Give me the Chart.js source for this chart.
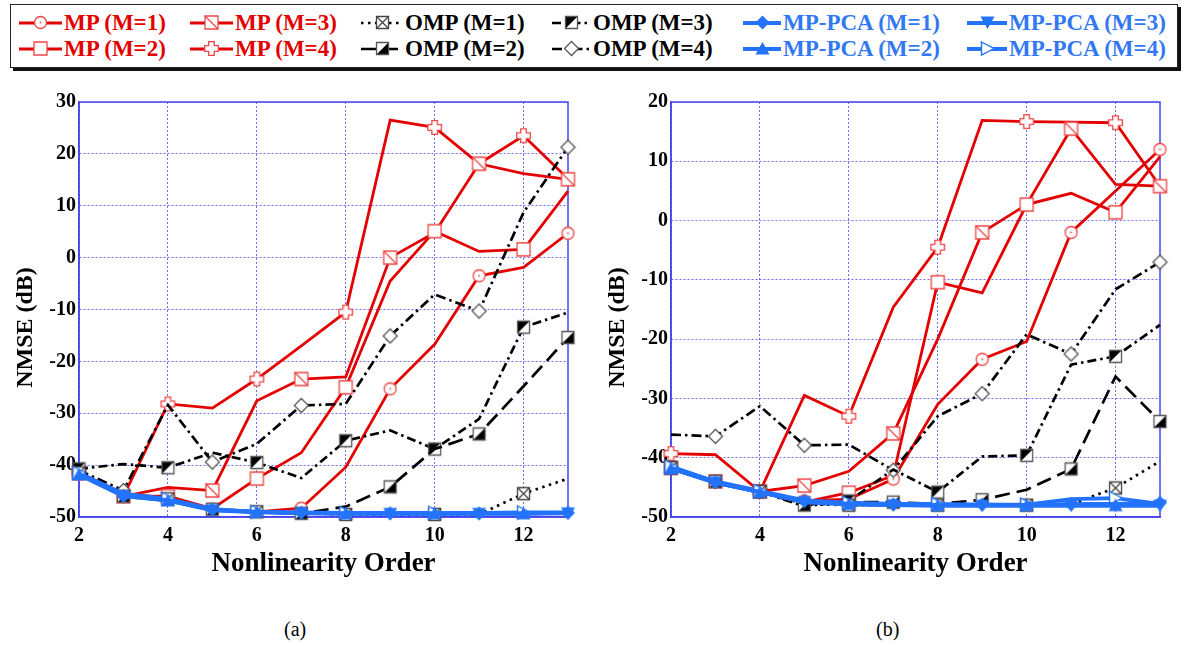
<!DOCTYPE html>
<html><head><meta charset="utf-8">
<script src="https://cdn.jsdelivr.net/npm/chart.js@4"></script>
<style>
body{margin:0;background:#fff;width:1186px;height:646px;position:relative;overflow:hidden;font-family:'Liberation Serif','Times New Roman',serif;}
#legend{position:absolute;left:10px;top:4px;width:1168px;height:64px;border:1.5px solid #222;box-shadow:3px 3px 0 #111;box-sizing:border-box;background:#fff;}
.li{position:absolute;height:26px;}
.li canvas{position:absolute;left:0;top:0;}
.li span{position:absolute;top:0;line-height:26px;font-weight:bold;font-size:23px;white-space:nowrap;}
.cap{position:absolute;font-size:20px;top:618px;}
.plot{position:absolute;top:85px;}
</style></head>
<body>
<div id="legend"></div>
<canvas id="ca" class="plot" width="571" height="497" style="left:7px"></canvas>
<canvas id="cb" class="plot" width="571" height="497" style="left:599px"></canvas>
<div class="cap" style="left:284px">(a)</div>
<div class="cap" style="left:876px">(b)</div>
<script>
// ---------------- data ----------------
const orders = [2,3,4,5,6,7,8,9,10,11,12,13];
const xTickValues = [2,4,6,8,10,12];
const yTicksA = [-50,-40,-30,-20,-10,0,10,20,30];
const yTicksB = [-50,-40,-30,-20,-10,0,10,20];

const seriesNames = ['MP (M=1)','MP (M=2)','MP (M=3)','MP (M=4)',
  'OMP (M=1)','OMP (M=2)','OMP (M=3)','OMP (M=4)',
  'MP-PCA (M=1)','MP-PCA (M=2)','MP-PCA (M=3)','MP-PCA (M=4)'];

// (a)
const mpA1 = [-41.5,-45.5,-46.3,-48.5,-49,-48.3,-40.4,-25.3,-16.7,-3.5,-1.9,4.7];
const mpA2 = [-41.5,-46,-46,-48.4,-42.6,-37.6,-25,-4.5,5.1,1.2,1.6,12.8];
const mpA3 = [-41.5,-46,-44.3,-44.9,-27.6,-23.4,-23,0,4.8,18.1,16.2,15.1];
const mpA4 = [-41.5,-46,-28.2,-29,-23.4,-17,-10.5,26.5,25.1,18.1,23.5,15.2];
const ompA1 = [-41.5,-46,-46.5,-48.5,-49,-49.3,-49.5,-49.5,-49.5,-49.5,-45.5,-42.6];
const ompA2 = [-41.5,-46,-46.5,-48.5,-49,-49.3,-48,-44.2,-36.9,-34,-24.8,-15.4];
const ompA3 = [-40.7,-39.8,-40.5,-37.6,-39.5,-42.5,-35.3,-33.3,-36.9,-31.1,-13.4,-10.6];
const ompA4 = [-41,-44.9,-28.4,-39.4,-35.9,-28.5,-28.2,-15.1,-7.1,-10.3,8.7,21.3];
const pcaA1 = [-41.8,-46,-46.8,-48.6,-49,-49.2,-49.3,-49.3,-49.3,-49.3,-49.3,-49.2];
const pcaA2 = [-41.8,-45.8,-46.8,-48.6,-49,-49.2,-49.3,-49.3,-49.3,-49.3,-49.3,-49.2];
const pcaA3 = [-41.8,-46,-46.8,-48.7,-49.1,-49.3,-49.4,-49.4,-49.4,-49.4,-49.4,-49.3];
const pcaA4 = [-41.5,-45.5,-46.5,-48.5,-49,-49.1,-49.2,-49.2,-49.2,-49.2,-49.1,-49.1];
// (b)
const mpB1 = [-41.7,-44,-45.7,-47.3,-47,-43.6,-31,-23.4,-20.4,-2,5,12];
const mpB2 = [-41.7,-44,-45.7,-47.5,-45.9,-43,-10.4,-12.2,2.7,4.6,1.4,10.8];
const mpB3 = [-41.7,-44,-45.7,-44.7,-42.3,-35.9,-20,-2,2.7,15.5,6.1,5.8];
const mpB4 = [-39.3,-39.5,-45.7,-29.5,-33,-14.6,-4.5,16.9,16.7,16.6,16.5,5.8];
const ompB1 = [-41.7,-44,-45.7,-47.8,-48,-48,-48,-48,-48,-47.8,-45.1,-40.6];
const ompB2 = [-41.7,-44,-45.7,-48,-47.5,-47.5,-47.8,-47.1,-45.4,-41.9,-26.3,-33.9];
const ompB3 = [-41.7,-44,-45.7,-48.2,-47.3,-42,-45.8,-39.8,-39.6,-24.3,-22.9,-17.6];
const ompB4 = [-36.1,-36.4,-31.3,-37.9,-37.8,-42.1,-33,-29.2,-19.2,-22.5,-11.6,-7];
const pcaB1 = [-41.8,-44.2,-45.8,-47.3,-47.8,-47.9,-48,-47.9,-48,-47.8,-47.8,-47.6];
const pcaB2 = [-41.8,-44.2,-45.8,-47.5,-47.8,-48,-48,-48,-48,-48,-48,-48];
const pcaB3 = [-41.8,-44.2,-45.8,-47.5,-47.9,-48,-48.1,-48.1,-48.1,-48.1,-48.1,-48.1];
const pcaB4 = [-41.5,-44,-45.6,-47.2,-47.6,-47.8,-47.8,-47.9,-47.9,-47,-46.8,-47.8];

// ---------------- styles ----------------
const RED='rgb(228,0,0)', RED_M='rgb(238,70,70)', BLK='#000', BLUE='rgb(35,115,250)', BLUE_T='rgb(50,120,245)';
function mk(type){
  const s=17,c=document.createElement('canvas');c.width=s;c.height=s;
  const g=c.getContext('2d');const m=8.5;
  g.lineWidth=1.3;g.fillStyle='#fff';
  const sq=()=>{g.beginPath();g.rect(2,2,13,13);};
  switch(type){
    case 'circle': g.strokeStyle=RED_M;g.beginPath();g.arc(m,m,6,0,Math.PI*2);g.fill();g.stroke();
      g.fillStyle=RED_M;g.beginPath();g.arc(m,m,0.9,0,Math.PI*2);g.fill();break;
    case 'square': g.strokeStyle=RED_M;sq();g.fill();g.stroke();break;
    case 'squareDiag': g.strokeStyle=RED_M;sq();g.fill();g.stroke();g.beginPath();g.moveTo(2,2);g.lineTo(15,15);g.stroke();break;
    case 'cross': { g.strokeStyle=RED_M;const a=2.8,b=6.8;g.beginPath();
      g.moveTo(m-a,m-b);g.lineTo(m+a,m-b);g.lineTo(m+a,m-a);g.lineTo(m+b,m-a);g.lineTo(m+b,m+a);g.lineTo(m+a,m+a);
      g.lineTo(m+a,m+b);g.lineTo(m-a,m+b);g.lineTo(m-a,m+a);g.lineTo(m-b,m+a);g.lineTo(m-b,m-a);g.lineTo(m-a,m-a);g.closePath();g.fill();g.stroke();break;}
    case 'boxX': g.strokeStyle='#444';g.beginPath();g.rect(2.5,2.5,12,12);g.fill();g.stroke();g.beginPath();g.moveTo(2.5,2.5);g.lineTo(14.5,14.5);g.moveTo(14.5,2.5);g.lineTo(2.5,14.5);g.stroke();break;
    case 'boxLR': g.strokeStyle='#555';g.beginPath();g.rect(2.5,2.5,12,12);g.fill();g.fillStyle='#000';g.beginPath();g.moveTo(14.5,2.5);g.lineTo(14.5,14.5);g.lineTo(2.5,14.5);g.closePath();g.fill();g.beginPath();g.rect(2.5,2.5,12,12);g.stroke();break;
    case 'boxUL': g.strokeStyle='#555';g.beginPath();g.rect(2.5,2.5,12,12);g.fill();g.fillStyle='#000';g.beginPath();g.moveTo(2.5,2.5);g.lineTo(14.5,2.5);g.lineTo(2.5,14.5);g.closePath();g.fill();g.beginPath();g.rect(2.5,2.5,12,12);g.stroke();break;
    case 'diamond': g.strokeStyle='#555';g.beginPath();g.moveTo(m,1.5);g.lineTo(15.5,m);g.lineTo(m,15.5);g.lineTo(1.5,m);g.closePath();g.fill();g.stroke();break;
    case 'bDiamond': g.fillStyle=BLUE;g.beginPath();g.moveTo(m,1.5);g.lineTo(15.5,m);g.lineTo(m,15.5);g.lineTo(1.5,m);g.closePath();g.fill();break;
    case 'bUp': g.fillStyle=BLUE;g.beginPath();g.moveTo(m,2);g.lineTo(15.5,14.5);g.lineTo(1.5,14.5);g.closePath();g.fill();break;
    case 'bDown': g.fillStyle=BLUE;g.beginPath();g.moveTo(1.5,2.5);g.lineTo(15.5,2.5);g.lineTo(m,15);g.closePath();g.fill();break;
    case 'bRight': g.strokeStyle=BLUE;g.lineWidth=1.4;g.beginPath();g.moveTo(2.5,2);g.lineTo(15,m);g.lineTo(2.5,15);g.closePath();g.fill();g.stroke();break;
  }
  return c;
}
const STY = [
  {color:RED,w:2.8,dash:[],marker:'circle',odd:true,tc:RED},
  {color:RED,w:2.8,dash:[],marker:'square',odd:false,tc:RED},
  {color:RED,w:2.8,dash:[],marker:'squareDiag',odd:true,tc:RED},
  {color:RED,w:2.8,dash:[],marker:'cross',odd:false,tc:RED},
  {color:BLK,w:2.7,dash:[2.5,4.5],marker:'boxX',odd:false,tc:BLK},
  {color:BLK,w:2.7,dash:[15,7],marker:'boxLR',odd:true,tc:BLK},
  {color:BLK,w:2.7,dash:[9,4,2.5,4],marker:'boxUL',odd:false,tc:BLK},
  {color:BLK,w:2.7,dash:[10,4,2.5,4],marker:'diamond',odd:true,tc:BLK},
  {color:BLUE,w:3.8,dash:[],marker:'bDiamond',odd:true,tc:BLUE_T},
  {color:BLUE,w:3.8,dash:[],marker:'bUp',odd:false,tc:BLUE_T},
  {color:BLUE,w:3.8,dash:[],marker:'bDown',odd:true,tc:BLUE_T},
  {color:BLUE,w:3.8,dash:[],marker:'bRight',odd:false,tc:BLUE_T},
];
STY.forEach(s=>s.img=mk(s.marker));

function buildSets(vals){
  return vals.map((v,i)=>{
    const s=STY[i];
    return {
      label:seriesNames[i],
      data:v.map((y,j)=>({x:orders[j],y})),
      borderColor:s.color,borderWidth:s.w,borderDash:s.dash,
      pointStyle:s.img,
      pointRadius:ctx=>((orders[ctx.dataIndex]%2===1)===s.odd)?5:0,
      pointHoverRadius:0,
      tension:0,fill:false,clip:10,
      order: i>=8?0:(i>=4?1:2)
    };
  });
}
const GRID='rgba(85,85,240,0.85)';
const FRAME='rgb(70,70,235)';
const frame={id:'frame',beforeDatasetsDraw(ch){const a=ch.chartArea,g=ch.ctx;g.save();g.strokeStyle=FRAME;g.lineWidth=1.5;g.strokeRect(a.left,a.top,a.right-a.left,a.bottom-a.top);g.restore();}};
const FAM="'Liberation Serif','Times New Roman',serif";
const TF={family:FAM,weight:'bold',size:20};
const XTF={family:FAM,weight:'bold',size:27};
const YTF={family:FAM,weight:'bold',size:24};
const yTitle='NMSE (dB)\u00a0\u00a0\u00a0\u00a0\u00a0\u00a0';

function makeChart(id,vals,ymin,ymax,yt){
  new Chart(document.getElementById(id),{
    type:'line',
    data:{datasets:buildSets(vals)},
    options:{
      responsive:false,animation:false,
      layout:{padding:{top:17,right:10,left:0,bottom:0}},
      plugins:{legend:{display:false},tooltip:{enabled:false}},
      scales:{
        x:{type:'linear',min:2,max:13,
          afterBuildTicks:s=>{s.ticks=xTickValues.map(v=>({value:v}));},
          afterFit:s=>{s.height=65;},
          grid:{color:GRID,lineWidth:1,drawTicks:false},
          border:{display:true,color:FRAME,width:1.5,dash:[2,2]},
          ticks:{font:TF,color:'#000',padding:7,maxRotation:0,callback:v=>String(v)},
          title:{display:true,text:'Nonlinearity Order',font:XTF,color:'#000',padding:{top:0,bottom:2}}},
        y:{type:'linear',min:ymin,max:ymax,
          afterBuildTicks:s=>{s.ticks=yt.map(v=>({value:v}));},
          afterFit:s=>{s.width=72;},
          grid:{color:GRID,lineWidth:1,drawTicks:false},
          border:{display:true,color:FRAME,width:1.5,dash:[2,2]},
          ticks:{font:TF,color:'#000',padding:3,callback:v=>String(v)},
          title:{display:true,text:yTitle,font:YTF,color:'#000',padding:{top:4,bottom:0}}}
      }
    },
    plugins:[frame]
  });
}
makeChart('ca',[mpA1,mpA2,mpA3,mpA4,ompA1,ompA2,ompA3,ompA4,pcaA1,pcaA2,pcaA3,pcaA4],-50,30,yTicksA);
makeChart('cb',[mpB1,mpB2,mpB3,mpB4,ompB1,ompB2,ompB3,ompB4,pcaB1,pcaB2,pcaB3,pcaB4],-50,20,yTicksB);

// ---------------- legend ----------------
const colSX=[8,179,350,541,732,956], colTX=[53,224,394,582,772,998], rowY=[5,31];
const legendPlace=[[0,0],[0,1],[1,0],[1,1],[2,0],[2,1],[3,0],[3,1],[4,0],[4,1],[5,0],[5,1]];
const L=document.getElementById('legend');
seriesNames.forEach((name,i)=>{
  const [col,row]=legendPlace[i],s=STY[i];
  const d=document.createElement('div');d.className='li';
  d.style.left=colSX[col]+'px';d.style.top=rowY[row]+'px';
  const w=colTX[col]-colSX[col]-2;
  const c=document.createElement('canvas');c.width=w;c.height=26;
  const g=c.getContext('2d');g.strokeStyle=s.color;g.lineWidth=s.w;g.setLineDash(s.dash);
  g.beginPath();g.moveTo(0,13);g.lineTo(w,13);g.stroke();g.setLineDash([]);
  g.drawImage(s.img,Math.round(w/2-8.5),4);
  const t=document.createElement('span');t.textContent=name;t.style.color=s.tc;t.style.left=(colTX[col]-colSX[col])+'px';
  d.appendChild(c);d.appendChild(t);L.appendChild(d);
});
</script>
</body></html>
